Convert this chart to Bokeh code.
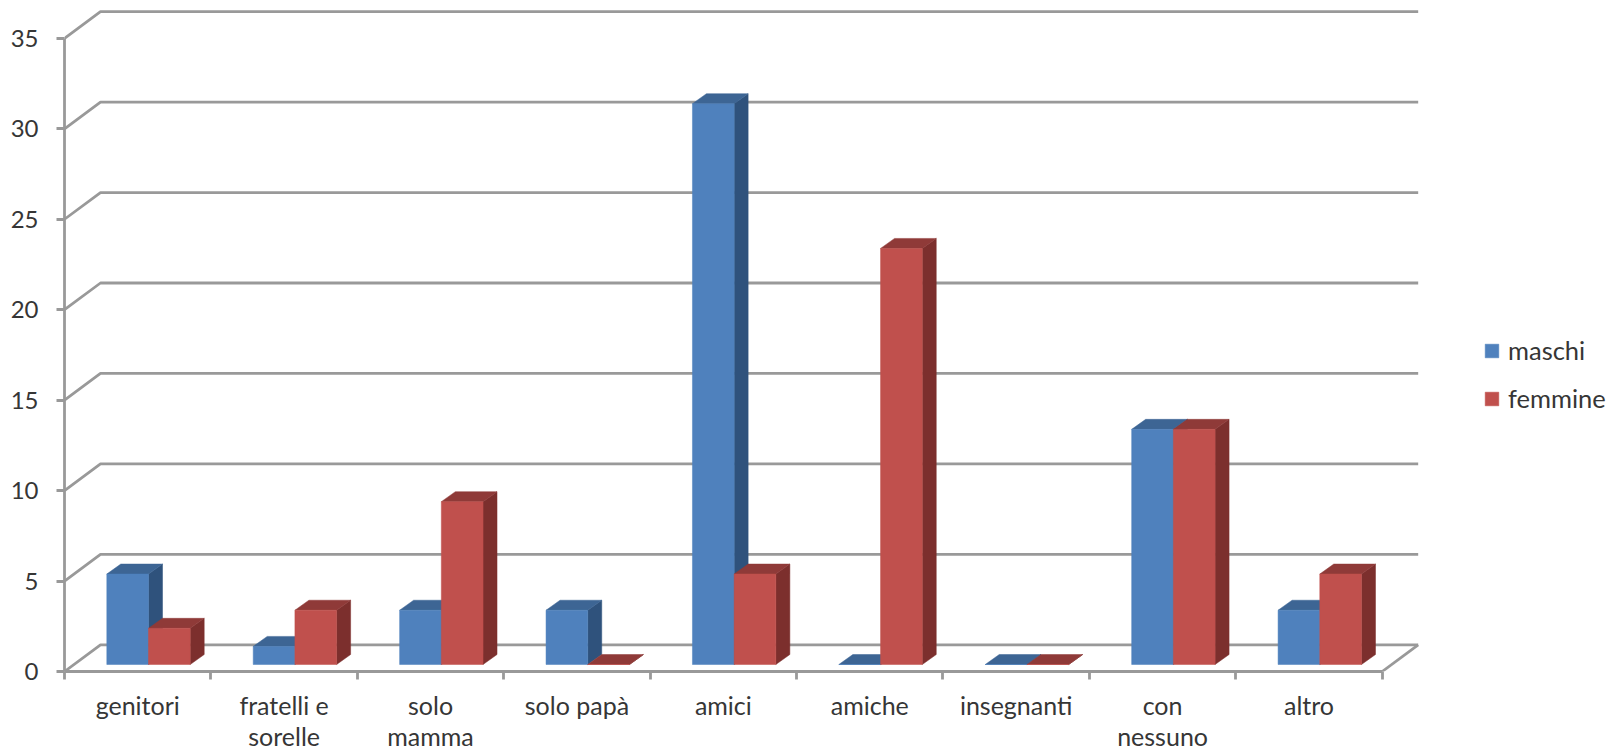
from bokeh.plotting import figure
from bokeh.models import Range1d, FixedTicker, Legend, LegendItem
from bokeh.embed import file_html
from bokeh.resources import INLINE

categories = ["genitori", "fratelli e\nsorelle", "solo\nmamma", "solo papà", "amici",
              "amiche", "insegnanti", "con\nnessuno", "altro"]
maschi = [5, 1, 3, 3, 31, 0, 0, 13, 3]
femmine = [2, 3, 9, 0, 5, 23, 0, 13, 5]
y_ticks = [0, 5, 10, 15, 20, 25, 30, 35]

FONT = "Lato"
TEXT = "#363636"
GRID = "#999999"
LINE_W = 2.8
PX_X = 146.41   # pixels per category
PX_Y = 18.09    # pixels per value unit
LEFT, FRAME_W, FRAME_H = 64, 1557, 671

WALL_DX, WALL_DY = 36 / PX_X, 26.7 / PX_Y
BAR_W = 41.7 / PX_X
BAR_OX, BAR_OY = 10.8 / PX_X, 7 / PX_Y
DEPTH_X, DEPTH_Y = 14 / PX_X, 10 / PX_Y

n = len(categories)
p = figure(width=1621, height=751, output_backend="svg", toolbar_location=None,
           x_range=Range1d(0, FRAME_W / PX_X), y_range=Range1d(0, FRAME_H / PX_Y),
           frame_width=FRAME_W, frame_height=FRAME_H,
           min_border_left=LEFT, min_border_right=0, min_border_top=0, min_border_bottom=80,
           background_fill_color="white", border_fill_color="white", outline_line_color=None)
p.grid.visible = False

# --- axes
xa = p.xaxis[0]
xa.bounds = (0, n)
xa.ticker = FixedTicker(ticks=[i + 0.5 for i in range(n)], minor_ticks=list(range(n + 1)))
xa.major_label_overrides = {i + 0.5: c for i, c in enumerate(categories)}
xa.major_tick_line_color = None
xa.major_tick_in = 0
xa.major_tick_out = 0
xa.minor_tick_in = 0
xa.minor_tick_out = 8
xa.minor_tick_line_color = GRID
xa.minor_tick_line_width = LINE_W
xa.axis_line_color = GRID
xa.axis_line_width = LINE_W
xa.major_label_standoff = 10
xa.major_label_text_font = FONT
xa.major_label_text_font_size = "25px"
xa.major_label_text_color = TEXT
xa.major_label_text_line_height = 1.06

ya = p.yaxis[0]
ya.bounds = (0, 35)
ya.ticker = FixedTicker(ticks=y_ticks, minor_ticks=[])
ya.major_tick_in = 0
ya.major_tick_out = 8
ya.major_tick_line_color = GRID
ya.major_tick_line_width = LINE_W
ya.axis_line_color = GRID
ya.axis_line_width = LINE_W
ya.major_label_standoff = 18
ya.major_label_text_font = FONT
ya.major_label_text_font_size = "24px"
ya.major_label_text_color = TEXT

# --- walls and floor
p.multi_line(xs=[[0, WALL_DX, n + WALL_DX] for _ in y_ticks],
             ys=[[v, v + WALL_DY, v + WALL_DY] for v in y_ticks],
             line_color=GRID, line_width=LINE_W)
p.line([n, n + WALL_DX], [0, WALL_DY], line_color=GRID, line_width=LINE_W)


def faces(values, shift):
    fx, fy, tx, ty, sx, sy = [], [], [], [], [], []
    for i, v in enumerate(values):
        l = i + 0.5 + BAR_OX + shift * BAR_W
        r = l + BAR_W
        b = BAR_OY
        t = b + v
        fx.append([l, r, r, l]); fy.append([b, b, t, t])
        tx.append([l, r, r + DEPTH_X, l + DEPTH_X]); ty.append([t, t, t + DEPTH_Y, t + DEPTH_Y])
        sx.append([r, r + DEPTH_X, r + DEPTH_X, r]); sy.append([b, b + DEPTH_Y, t + DEPTH_Y, t])
    return fx, fy, tx, ty, sx, sy


def draw(values, shift, front, top, side):
    fx, fy, tx, ty, sx, sy = faces(values, shift)
    p.patches(sx, sy, fill_color=side, line_color=side, line_width=0.5)
    p.patches(tx, ty, fill_color=top, line_color=top, line_width=0.5)
    return p.patches(fx, fy, fill_color=front, line_color=front, line_width=0.5)


r_m = draw(maschi, -1, "#4F81BD", "#3D6594", "#2F527C")
r_f = draw(femmine, 0, "#C0504D", "#8F3A38", "#7C2F2D")

legend = Legend(items=[LegendItem(label="maschi", renderers=[r_m]),
                       LegendItem(label="femmine", renderers=[r_f])],
                location=(1419, 258), orientation="vertical",
                background_fill_alpha=0, border_line_color=None,
                margin=0, padding=0, glyph_width=17, glyph_height=17,
                label_standoff=8, spacing=18, label_height=20,
                label_text_font=FONT, label_text_font_size="25.5px", label_text_color=TEXT)
p.add_layout(legend, "center")

open("out.html", "w").write(file_html(p, INLINE))
